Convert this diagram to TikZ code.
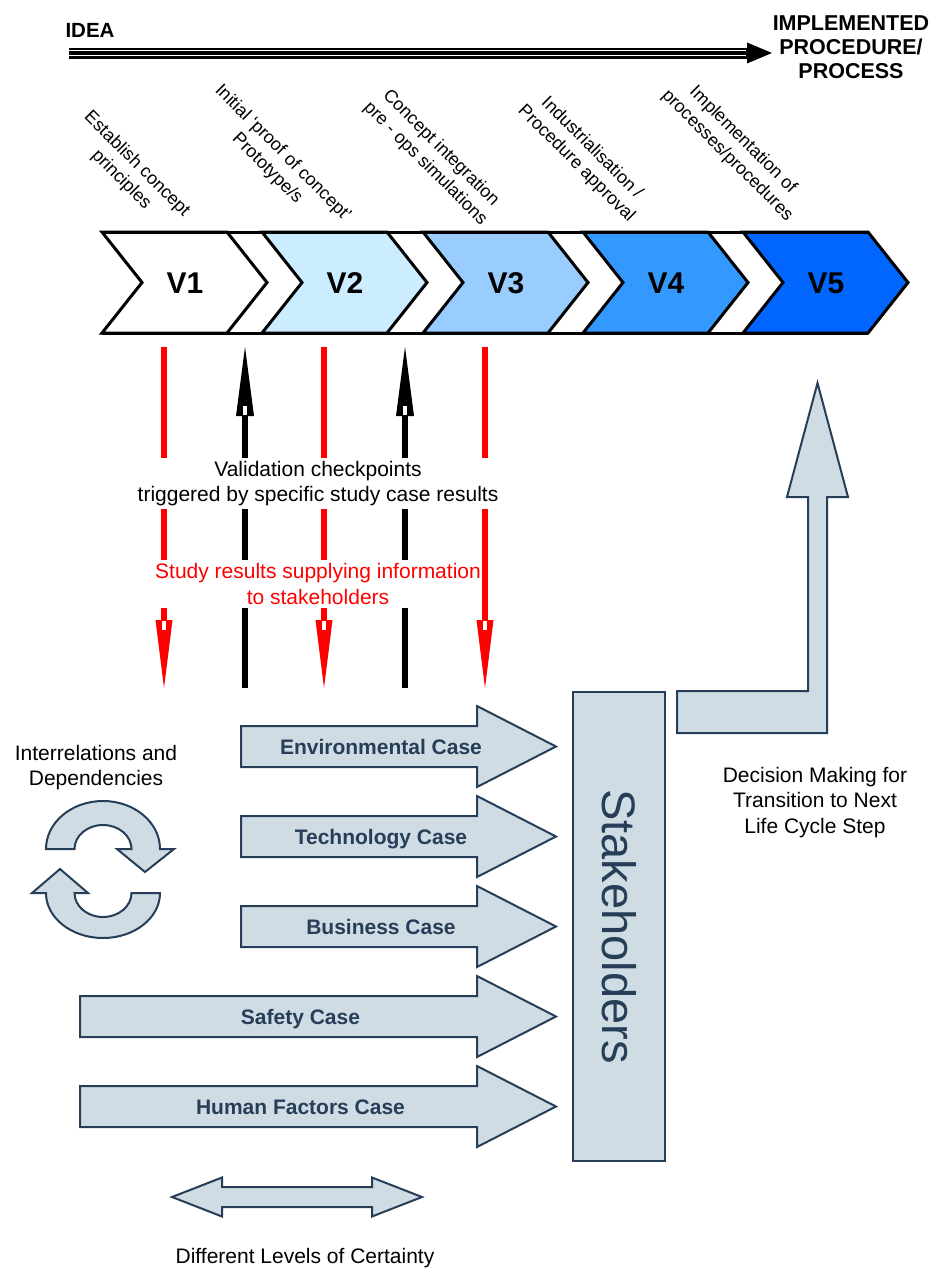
\documentclass[tikz,border=0pt]{standalone}
\usepackage{fontspec}
\setmainfont{Liberation Sans}
\definecolor{SlateInk}{RGB}{38, 62, 88}
\definecolor{SlateFill}{RGB}{208, 220, 228}
\definecolor{StepBlueA}{RGB}{204, 236, 255}
\definecolor{StepBlueB}{RGB}{153, 204, 255}
\definecolor{StepBlueC}{RGB}{51, 153, 255}
\definecolor{StepBlueD}{RGB}{0, 102, 255}
\usetikzlibrary{arrows.meta, positioning, calc}

\begin{document}
\begin{tikzpicture}[x=1pt, y=1pt, yscale=-1, >=Stealth,
    every node/.style={font=\fontsize{21}{25.5}\selectfont},
    chevbox/.style={draw=black, line width=3pt, line join=miter},
    vlabel/.style={font=\fontsize{30}{36}\selectfont\bfseries, text height=21.5pt, text depth=0pt},
    phase/.style={font=\fontsize{18}{22}\selectfont, rotate=-45, align=center},
    redflow/.style={draw=red, line width=6.5pt, -{Triangle[length=68pt, width=17pt, line width=0pt]}},
    blackflow/.style={draw=black, line width=6.5pt, -{Triangle[length=69pt, width=18pt, line width=0pt]}},
    blockarrow/.style={draw=SlateInk, fill=SlateFill, line width=2pt, line join=miter},
    casetext/.style={font=\fontsize{21}{25}\selectfont\bfseries, text=SlateInk, text height=15pt, text depth=0pt}]
    \useasboundingbox (0,0) rectangle (932,1270);

    % Idea to process
    \node[font=\fontsize{20.5}{24}\selectfont\bfseries] (idea) at (90,30) {IDEA};
    \node[font=\fontsize{21.5}{24}\selectfont\bfseries, align=center] (done) at (851,47) {IMPLEMENTED\\PROCEDURE/\\PROCESS};
    \coordinate (flowstart) at (69,53);
    \coordinate (flowend) at (772,53);
    \draw[line width=11pt, -{Triangle[length=25pt, width=21pt, line width=0pt]}] (flowstart) -- (flowend);
    \draw[white, line width=0.9pt] (69,50.4) -- (746,50.4) (69,55.6) -- (746,55.6);

    % Phase labels
    \node[phase] (ph1) at (129,172) {Establish concept\\principles};
    \node[phase] (ph2) at (275,161) {Initial ‘proof of concept’\\Prototype/s};
    \node[phase] (ph3) at (433,156) {Concept integration\\pre - ops simulations};
    \node[phase] (ph4) at (584,156) {Industrialisation /\\Procedure approval};
    \node[phase] (ph5) at (735,148) {Implementation of\\processes/procedures};

    % Life cycle steps
    \foreach \x/\col/\lab [count=\i] in {102/white/V1, 262/StepBlueA/V2, 423/StepBlueB/V3, 583/StepBlueC/V4, 743/StepBlueD/V5} {
        \draw[chevbox, fill=\col] (\x,232) -- ++(125,0) -- ++(40,50.5) -- ++(-40,50.5) -- ++(-125,0) -- ++(40,-50.5) -- cycle;
        \node[vlabel] (v\i) at (\x+83,282.5) {\lab};
    }
    \draw[chevbox] (102,232) -- (868,232) (102,333) -- (868,333);

    % Study results and checkpoints
    \foreach \x [count=\i] in {164,324,485} {
        \coordinate (rtop\i) at (\x,347);
        \coordinate (rbot\i) at (\x,688);
    }
    \foreach \x [count=\i] in {245,405} {
        \coordinate (btop\i) at (\x,347);
        \coordinate (bbot\i) at (\x,688);
    }
    \foreach \i in {1,2,3} \draw[redflow] (rtop\i) -- (rbot\i);
    \foreach \i in {1,2} \draw[blackflow] (bbot\i) -- (btop\i);
    \foreach \x in {164,324,485} \fill[white] (\x-2,621) rectangle (\x+2,630);
    \foreach \x in {245,405} \fill[white] (\x-2,406) rectangle (\x+2,415);
    \node[fill=white, align=center, inner xsep=2pt] (checks) at (318,483.5) {Validation checkpoints\\triggered by specific study case results};
    \node[fill=white, align=center, text=red, inner xsep=0pt] (results) at (318,584) {Study results supplying information\\to stakeholders};

    % Study cases
    \foreach \yc/\xl/\txt/\nm in {746.5/241/Environmental Case/env, 836.5/241/Technology Case/tech, 926.5/241/Business Case/bus, 1016.5/80/Safety Case/safe, 1106.5/80/Human Factors Case/human} {
        \draw[blockarrow] (\xl,\yc-20.5) -- (477,\yc-20.5) -- (477,\yc-40.5) -- (556,\yc) -- (477,\yc+40.5) -- (477,\yc+20.5) -- (\xl,\yc+20.5) -- cycle;
        \node[casetext] (\nm) at ({(\xl+521)/2},\yc) {\txt};
    }
    \node[draw=SlateInk, fill=SlateFill, line width=2pt, rotate=-90, minimum width=469pt, minimum height=92pt, font=\fontsize{47}{56}\selectfont, text=SlateInk] (stake) at (619,926.5) {Stakeholders};

    % Decision
    \draw[blockarrow] (677,691) -- (808,691) -- (808,497) -- (787,497) -- (817.5,383) -- (848,497) -- (827,497) -- (827,733) -- (677,733) -- cycle;
    \node[align=center] (decision) at (815,802.5) {Decision Making for\\Transition to Next\\Life Cycle Step};

    % Interrelations
    \node[align=center] (interrel) at (96,767.5) {Interrelations and\\Dependencies};
    \draw[blockarrow] (46,849) arc[start angle=180, end angle=360, x radius=57, y radius=48] -- (174,849) -- (145,872) -- (117,849) -- (131.5,849) arc[start angle=0, end angle=-180, x radius=28.5, y radius=24] -- cycle;
    \draw[blockarrow] (160,893) arc[start angle=0, end angle=180, x radius=57, y radius=45] -- (32,893) -- (60,869) -- (88,893) -- (74.5,893) arc[start angle=180, end angle=0, x radius=28.5, y radius=24] -- cycle;

    % Certainty
    \draw[blockarrow] (172,1197) -- (222,1177.5) -- (222,1187) -- (372,1187) -- (372,1177.5) -- (422,1197) -- (372,1216.5) -- (372,1207) -- (222,1207) -- (222,1216.5) -- cycle;
    \node (certainty) at (305,1258.5) {Different Levels of Certainty};
\end{tikzpicture}
\end{document}
